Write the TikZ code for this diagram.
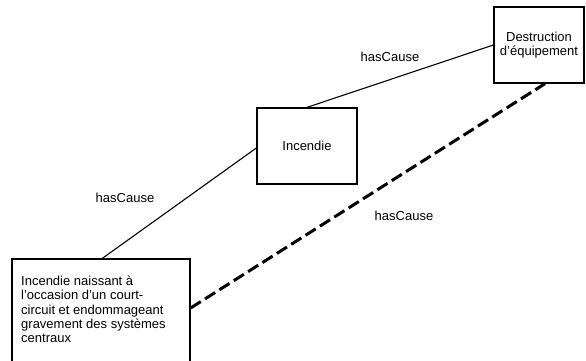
\documentclass[tikz,border=0pt]{standalone}
\usepackage{fontspec}
\setmainfont{Liberation Sans}
\usetikzlibrary{calc}
\begin{document}
\begin{tikzpicture}[x=1pt,y=-1pt,
  box/.style={draw, line width=1.3pt, inner sep=0pt, font=\fontsize{13}{14.2}\selectfont, align=center},
  rel/.style={line width=1.1pt},
  inferred/.style={line width=3pt, dash pattern=on 12pt off 5pt},
  lbl/.style={font=\fontsize{13}{14.2}\selectfont}]
\useasboundingbox (0,0) rectangle (586,360);
% boxes
\node[box, minimum width=178pt, minimum height=106pt] (src) at (101,312) {};
\node[anchor=north west, inner sep=0pt, align=left, font=\fontsize{13}{14.2}\selectfont] (srctext) at (21,276)
  {Incendie naissant à\\l'occasion d'un court-\\circuit et endommageant\\gravement des systèmes\\centraux};
\node[box, minimum width=100pt, minimum height=76pt] (inc) at (307,146) {Incendie};
\node[box, minimum width=90pt, minimum height=76pt] (dest) at (539,45) {Destruction\\d'équipement};
% relations
\draw[rel] ($(src.north west)+(91,0)$) -- ($(inc.west)+(0,2)$);
\draw[rel] (inc.north) -- (dest.west);
\draw[inferred] ($(src.east)+(0,-4)$) -- ($(dest.south)+(6,0)$);
% labels
\node[lbl] (l1) at (390,57) {hasCause};
\node[lbl] (l2) at (125,198) {hasCause};
\node[lbl] (l3) at (404,216) {hasCause};
\end{tikzpicture}
\end{document}
